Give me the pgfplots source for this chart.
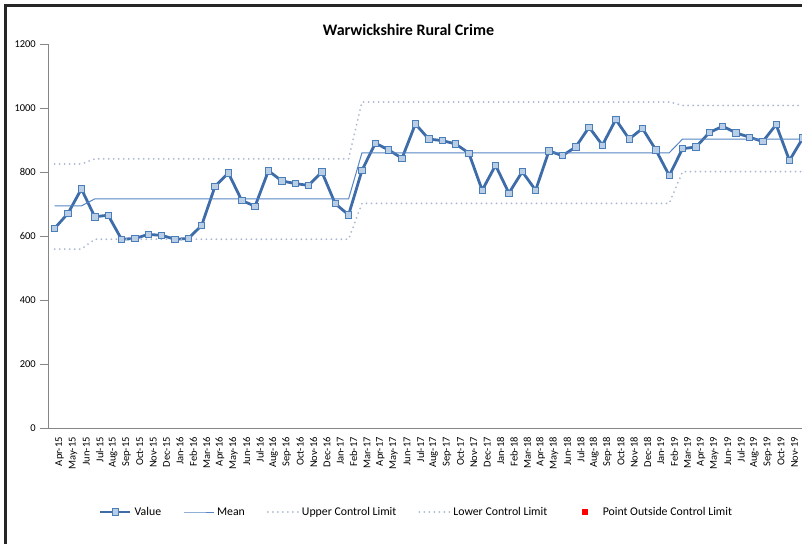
\documentclass[border=0pt]{standalone}
\usepackage{fontspec}
\setmainfont{Carlito}
\usepackage{pgfplots}
\usepackage{pgfplotstable}
\pgfplotsset{compat=1.18}

\definecolor{valline}{HTML}{3D6CA9}
\definecolor{valfill}{HTML}{B9CDE5}
\definecolor{valedge}{HTML}{4A7EBB}
\definecolor{meanline}{HTML}{5585C2}
\definecolor{limitdot}{HTML}{A9B7D0}
\definecolor{axisgrey}{HTML}{868686}

% legend sample: a single mark centred in a 30pt wide slot
\pgfplotsset{markonly legend/.style={legend image code/.code={%
  \path (0pt,0pt) (30pt,0pt); \draw[##1] plot coordinates {(15pt,0pt)};}}}

% month index, recorded crimes, mean, upper and lower control limits
\pgfplotstableread{
idx val mean ucl lcl
0 624 694 825 559
1 671 694 825 559
2 747 694 825 559
3 660 716 841 590
4 665 716 841 590
5 590 716 841 590
6 592 716 841 590
7 605 716 841 590
8 602 716 841 590
9 590 716 841 590
10 592 716 841 590
11 633 716 841 590
12 755 716 841 590
13 797 716 841 590
14 711 716 841 590
15 693 716 841 590
16 804 716 841 590
17 772 716 841 590
18 764 716 841 590
19 758 716 841 590
20 800 716 841 590
21 701 716 841 590
22 666 716 841 590
23 805 860 1019 702
24 890 860 1019 702
25 869 860 1019 702
26 843 860 1019 702
27 950 860 1019 702
28 903 860 1019 702
29 898 860 1019 702
30 888 860 1019 702
31 859 860 1019 702
32 743 860 1019 702
33 821 860 1019 702
34 734 860 1019 702
35 801 860 1019 702
36 743 860 1019 702
37 866 860 1019 702
38 851 860 1019 702
39 878 860 1019 702
40 940 860 1019 702
41 884 860 1019 702
42 964 860 1019 702
43 903 860 1019 702
44 936 860 1019 702
45 869 860 1019 702
46 789 860 1019 702
47 873 903 1008 801
48 878 903 1008 801
49 923 903 1008 801
50 943 903 1008 801
51 922 903 1008 801
52 909 903 1008 801
53 895 903 1008 801
54 948 903 1008 801
55 836 903 1008 801
56 906 903 1008 801
}\crimedata

\begin{document}
\begin{tikzpicture}[x=1pt,y=1pt]
\path[use as bounding box] (0,0) rectangle (802,543);
\clip (0,0) rectangle (802,543);
% chart frame
\draw[line width=2.2pt, black!85] (5.5,-20) -- (5.5,537.5) -- (900,537.5);
\node[font=\bfseries\fontsize{16}{18}\selectfont] at (408.5,513) {Warwickshire Rural Crime};
\begin{axis}[
  at={(48pt,115pt)}, anchor=south west,
  scale only axis, width=761.5pt, height=384pt,
  xmin=-0.5, xmax=56.5, ymin=0, ymax=1200,
  axis x line=bottom, axis y line=left,
  axis line style={-, draw=axisgrey, line width=0.8pt},
  ytick={0,200,...,1200},
  tick align=outside,
  major tick length=8pt,
  ytick style={draw=axisgrey, line width=0.8pt},
  xtick style={draw=none},
  xtick={0,...,56},
  xticklabels={Apr-15,May-15,Jun-15,Jul-15,Aug-15,Sep-15,Oct-15,Nov-15,Dec-15,Jan-16,Feb-16,Mar-16,
    Apr-16,May-16,Jun-16,Jul-16,Aug-16,Sep-16,Oct-16,Nov-16,Dec-16,Jan-17,Feb-17,Mar-17,
    Apr-17,May-17,Jun-17,Jul-17,Aug-17,Sep-17,Oct-17,Nov-17,Dec-17,Jan-18,Feb-18,Mar-18,
    Apr-18,May-18,Jun-18,Jul-18,Aug-18,Sep-18,Oct-18,Nov-18,Dec-18,Jan-19,Feb-19,Mar-19,
    Apr-19,May-19,Jun-19,Jul-19,Aug-19,Sep-19,Oct-19,Nov-19,Dec-19},
  xticklabel style={rotate=90, anchor=east, font=\fontsize{10.5}{12}\selectfont, inner sep=1pt, yshift=-5pt},
  yticklabel style={font=\fontsize{10.5}{12}\selectfont, anchor=east, inner sep=1pt, xshift=-3pt},
  /pgf/number format/assume math mode=true,
  /pgf/number format/1000 sep={},
  legend columns=5,
  legend style={at={(0.4839,-0.21875)}, anchor=center, draw=none, fill=none,
    font=\fontsize{11.8}{14}\selectfont,
    nodes={inner sep=2pt},
    /tikz/every even column/.append style={column sep=20pt},
    /tikz/every odd column/.append style={column sep=1pt}},
  legend image code/.code={\draw[mark repeat=2,mark phase=2,#1] plot coordinates {(0pt,0pt) (15pt,0pt) (30pt,0pt)};},
]
\addplot[color=valline, line width=2.8pt, mark=square*, mark size=3.2pt,
  mark options={fill=valfill, draw=valedge, line width=0.8pt}]
  table[x=idx, y=val] {\crimedata};
\addlegendentry{Value}
\addplot[color=meanline, line width=1pt] table[x=idx, y=mean] {\crimedata};
\addlegendentry{Mean}
\addplot[color=limitdot, line width=2pt, line cap=round, dash pattern=on 0pt off 5pt]
  table[x=idx, y=ucl] {\crimedata};
\addlegendentry{Upper Control Limit}
\addplot[color=limitdot, line width=2pt, line cap=round, dash pattern=on 0pt off 5pt]
  table[x=idx, y=lcl] {\crimedata};
\addlegendentry{Lower Control Limit}
\addlegendimage{only marks, mark=square*, mark size=2.5pt, color=red, markonly legend}
\addlegendentry{Point Outside Control Limit}
\end{axis}
\end{tikzpicture}
\end{document}
